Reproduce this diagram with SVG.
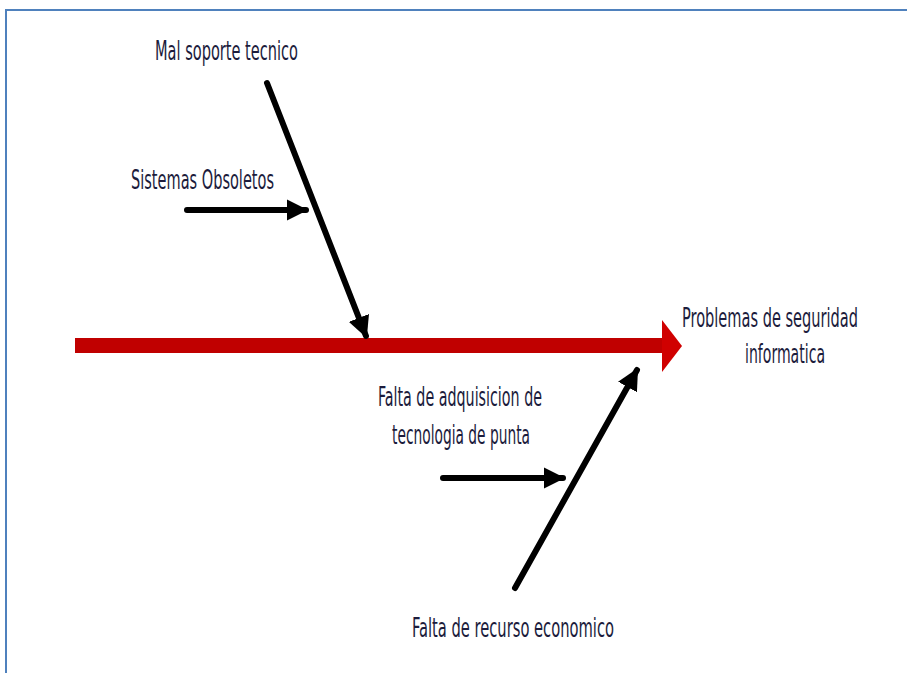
<svg xmlns="http://www.w3.org/2000/svg" width="907" height="673" viewBox="0 0 907 673">
<style>
.t{font-family:"DejaVu Sans Condensed","Liberation Sans",sans-serif;font-size:26px;fill:#1c1c3c;}
.b{stroke:#000;stroke-width:6;fill:none;stroke-linecap:round;}
</style>
<defs>
<marker id="ah" viewBox="0 0 10 10" refX="9" refY="5" markerWidth="3.6" markerHeight="3.6" orient="auto" markerUnits="strokeWidth">
<path d="M0,0 L10,5 L0,10 Z" fill="#000"/>
</marker>
</defs>
<rect width="907" height="673" fill="#fff"/>
<path d="M6,673 V10 H907" fill="none" stroke="#4f81bd" stroke-width="2"/>
<g id="connectors">
<rect x="75" y="338" width="590" height="15" fill="#c00000"/>
<path d="M662,320 L682,346 L662,372 Z" fill="#d00000"/>
<line class="b" x1="267" y1="83" x2="366" y2="336" marker-end="url(#ah)"/>
<line class="b" x1="187" y1="210" x2="306" y2="210" marker-end="url(#ah)"/>
<line class="b" x1="515" y1="588" x2="637" y2="370" marker-end="url(#ah)"/>
<line class="b" x1="443" y1="478" x2="563" y2="478" marker-end="url(#ah)"/>
</g>
<g id="effect">
<text class="t" x="682" y="327" textLength="176" lengthAdjust="spacingAndGlyphs">Problemas de seguridad</text>
<text class="t" x="745" y="363" textLength="80" lengthAdjust="spacingAndGlyphs">informatica</text>
</g>
<g id="cause1"><text class="t" x="155" y="60" textLength="143" lengthAdjust="spacingAndGlyphs">Mal soporte tecnico</text></g>
<g id="cause2"><text class="t" x="131" y="189" textLength="143" lengthAdjust="spacingAndGlyphs">Sistemas Obsoletos</text></g>
<g id="cause3">
<text class="t" x="378" y="406" textLength="164" lengthAdjust="spacingAndGlyphs">Falta de adquisicion de</text>
<text class="t" x="392" y="444" textLength="138" lengthAdjust="spacingAndGlyphs">tecnologia de punta</text>
</g>
<g id="cause4"><text class="t" x="412" y="637" textLength="202" lengthAdjust="spacingAndGlyphs">Falta de recurso economico</text></g>
</svg>
